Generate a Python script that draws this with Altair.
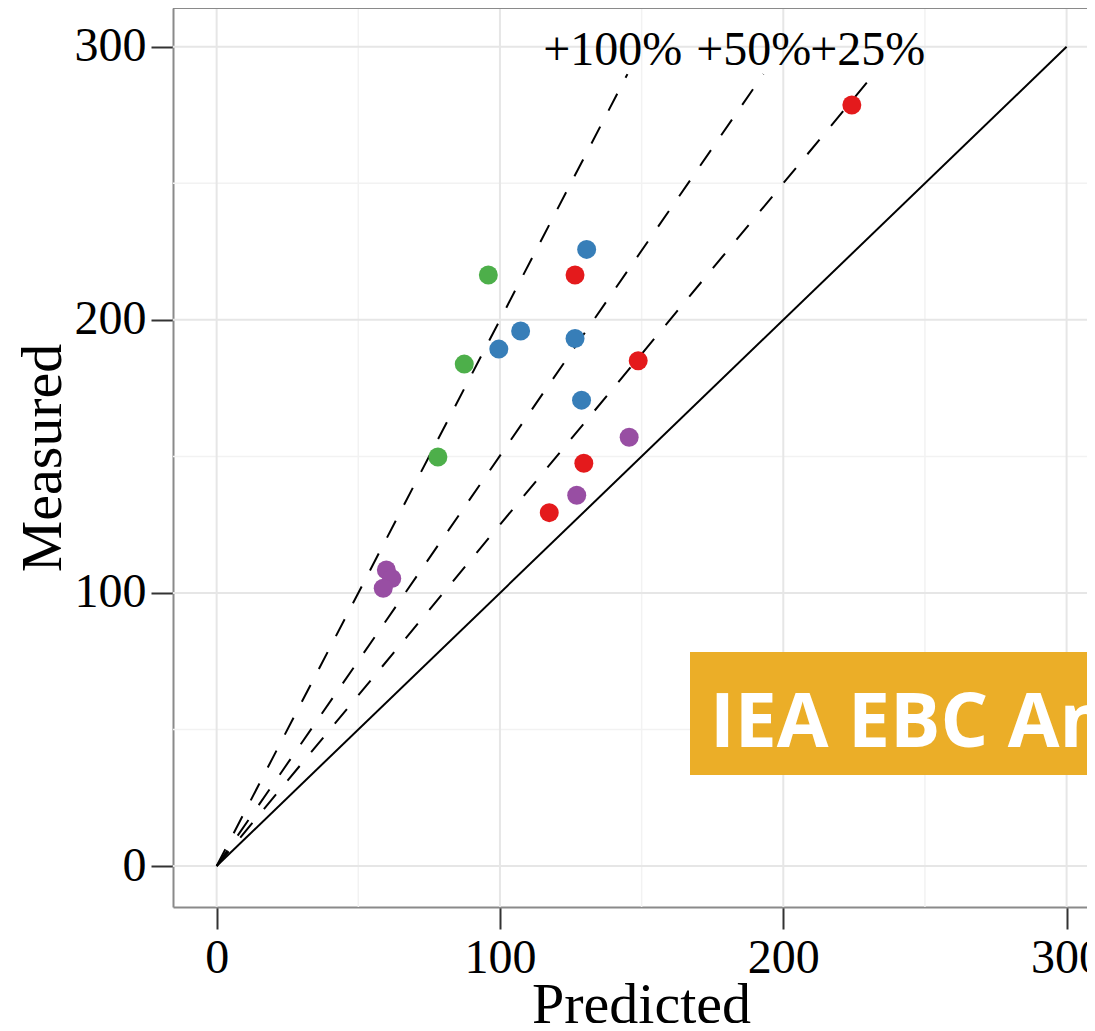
import altair as alt
import pandas as pd

# ---- data ----
red_pred = [224.2, 126.5, 148.8, 129.6, 117.4]
red_meas = [278.7, 216.4, 185.0, 147.5, 129.4]
blue_pred = [130.6, 107.3, 99.6, 126.5, 128.8]
blue_meas = [225.8, 195.9, 189.3, 193.2, 170.6]
green_pred = [95.9, 87.4, 78.1]
green_meas = [216.4, 183.8, 149.8]
purple_pred = [145.6, 127.1, 59.9, 61.8, 58.8]
purple_meas = [157.0, 135.8, 108.4, 105.3, 101.7]

series_names = ["Red", "Blue", "Green", "Purple"]
series_colors = ["#E41A1C", "#377EB8", "#4DAF4A", "#984EA3"]

# reference lines: id, end point (start at origin)
ref_names = ["0%", "+25%", "+50%", "+100%"]
ref_end_x = [300, 232, 193, 145]
ref_end_y = [300, 290, 290, 290]

label_text = ["+100%", "+50%", "+25%"]
label_x = [139.8, 189.6, 229.8]
label_y = [300, 300, 300]

tick_values = [0, 100, 200, 300]
grid_major = [0, 100, 200, 300]
grid_minor = [50, 150, 250]

banner_text = "IEA EBC Annex"

# ---- tables ----
rows = []
for name, px, py in zip(series_names,
                        [red_pred, blue_pred, green_pred, purple_pred],
                        [red_meas, blue_meas, green_meas, purple_meas]):
    for a, b in zip(px, py):
        rows.append({"series": name, "Predicted": a, "Measured": b})
points = pd.DataFrame(rows)

lrows = []
for n, ex, ey in zip(ref_names, ref_end_x, ref_end_y):
    lrows.append({"line": n, "order": 0, "x": 0, "y": 0})
    lrows.append({"line": n, "order": 1, "x": ex, "y": ey})
lines = pd.DataFrame(lrows)

labels = pd.DataFrame({"text": label_text, "x": label_x, "y": label_y})
gmaj = pd.DataFrame({"v": grid_major})
gmin = pd.DataFrame({"v": grid_minor})
one = pd.DataFrame({"a": [0]})

SERIF = "Liberation Serif"
xs = alt.Scale(domain=[-15.4, 307.2], nice=False, zero=False)
ys = alt.Scale(domain=[-15.0, 314.2], nice=False, zero=False)

xaxis = alt.Axis(values=tick_values, grid=False, domain=True, domainColor="#8a8a8a",
                 domainWidth=2, tickSize=22, tickColor="#333333", tickWidth=2,
                 labelFont=SERIF, labelFontSize=48, labelColor="black", labelPadding=5,
                 labelFlush=False, labelOverlap=False, labelBound=False,
                 title="Predicted", titleFont=SERIF, titleFontSize=58,
                 titleFontWeight="normal", titleColor="black", titleX=468, titleY=115,
                 titleBaseline="alphabetic", titleAlign="center")
yaxis = alt.Axis(values=tick_values, grid=False, domain=True, domainColor="#8a8a8a",
                 domainWidth=2, tickSize=22, tickColor="#333333", tickWidth=2,
                 labelFont=SERIF, labelFontSize=48, labelColor="black", labelPadding=5,
                 labelFlush=False, labelOverlap=False, labelBound=False,
                 title="Measured", titleFont=SERIF, titleFontSize=58,
                 titleFontWeight="normal", titleColor="black", titleX=-113, titleY=449.5,
                 titleBaseline="alphabetic", titleAlign="center", titleAngle=270)

minor_x = alt.Chart(gmin).mark_rule(color="#F2F2F2", strokeWidth=1.5).encode(
    x=alt.X("v:Q", scale=xs, axis=xaxis))
minor_y = alt.Chart(gmin).mark_rule(color="#F2F2F2", strokeWidth=1.5).encode(
    y=alt.Y("v:Q", scale=ys, axis=yaxis))
major_x = alt.Chart(gmaj).mark_rule(color="#E6E6E6", strokeWidth=2).encode(
    x=alt.X("v:Q", scale=xs))
major_y = alt.Chart(gmaj).mark_rule(color="#E6E6E6", strokeWidth=2).encode(
    y=alt.Y("v:Q", scale=ys))

top_border = alt.Chart(one).mark_rule(color="#8a8a8a", strokeWidth=2).encode(
    y=alt.value(0))

solid = alt.Chart(lines).transform_filter(alt.datum.line == "0%").mark_line(
    color="black", strokeWidth=2).encode(
    x=alt.X("x:Q", scale=xs), y=alt.Y("y:Q", scale=ys), order="order:O", detail="line:N")
dashed = alt.Chart(lines).transform_filter(alt.datum.line != "0%").mark_line(
    color="black", strokeWidth=2, strokeDash=[19, 18]).encode(
    x=alt.X("x:Q", scale=xs), y=alt.Y("y:Q", scale=ys), order="order:O", detail="line:N")

pts = alt.Chart(points).mark_circle(size=360, opacity=1).encode(
    x=alt.X("Predicted:Q", scale=xs),
    y=alt.Y("Measured:Q", scale=ys),
    color=alt.Color("series:N", scale=alt.Scale(domain=series_names, range=series_colors),
                    legend=None))

lab = alt.Chart(labels).mark_text(font=SERIF, fontSize=48, color="black",
                                  baseline="middle", align="center", dy=4).encode(
    x=alt.X("x:Q", scale=xs), y=alt.Y("y:Q", scale=ys), text="text:N")

banner = alt.Chart(one).mark_rect(color="#EBAE28").encode(
    x=alt.value(517), x2=alt.value(960), y=alt.value(644), y2=alt.value(767))
banner_t = alt.Chart(one).mark_text(font="Open Sans", fontWeight="bold", fontSize=75,
                                    color="white", align="left", baseline="alphabetic").encode(
    x=alt.value(537), y=alt.value(739), text=alt.value(banner_text))

chart = alt.layer(minor_x, minor_y, major_x, major_y, top_border, solid, dashed, pts, lab,
                  banner, banner_t).properties(
    width=914, height=899,
    autosize=alt.AutoSizeParams(type="none"),
    padding={"left": 165, "top": 0, "right": 0, "bottom": 116},
    background="white",
).configure_view(stroke=None)

chart.save("out.html", embed_options={"renderer": "svg", "actions": False})
